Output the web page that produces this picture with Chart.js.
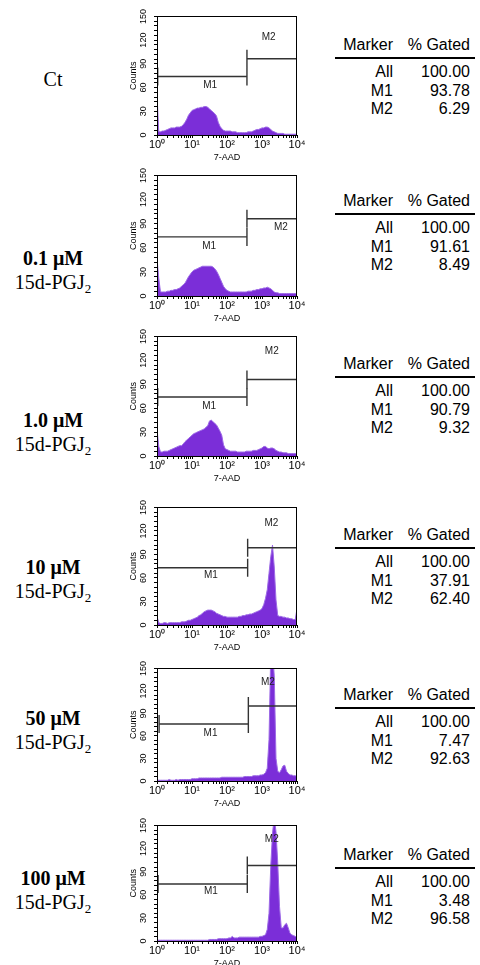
<!DOCTYPE html>
<html lang="en">
<head>
<meta charset="UTF-8">
<title>7-AAD histograms, 15d-PGJ2</title>
<script src="https://cdn.jsdelivr.net/npm/chart.js@4.4.0/dist/chart.umd.min.js"></script>
<style>
  body { margin:0; width:480px; height:965px; background:#fff; position:relative; overflow:hidden; }
  canvas { position:absolute; }
  .lbl { position:absolute; left:0; width:106px; text-align:center; font-family:"Liberation Serif","Times New Roman",serif; font-size:20px; line-height:24px; color:#000; }
  .lbl b { display:block; }
  .lbl sub { font-size:13px; line-height:0; vertical-align:-4px; }
  .tbl { position:absolute; left:335px; width:140px; height:80px; font-family:"Liberation Sans",Arial,sans-serif; font-size:16px; color:#000; }
  .tbl div { position:absolute; height:18px; line-height:18px; white-space:nowrap; }
  .tbl .rule { left:0; width:140px; height:2px; background:#000; }
</style>
</head>
<body>
<script>
// sample names
const conditions = ['Ct', '0.1 μM', '1.0 μM', '10 μM', '50 μM', '100 μM'];
// % gated table
const pctAll = ['100.00', '100.00', '100.00', '100.00', '100.00', '100.00'];
const pctM1 = ['93.78', '91.61', '90.79', '37.91', '7.47', '3.48'];
const pctM2 = ['6.29', '8.49', '9.32', '62.40', '92.63', '96.58'];

// histogram channel positions, in decades of 7-AAD (10^0 .. 10^4)
const channels = [0, 0.05, 0.1, 0.15, 0.2, 0.25, 0.3, 0.35, 0.4, 0.45, 0.5, 0.55, 0.6, 0.65, 0.7, 0.75, 0.8, 0.85, 0.9, 0.95,
  1, 1.05, 1.1, 1.15, 1.2, 1.25, 1.3, 1.35, 1.4, 1.45, 1.5, 1.55, 1.6, 1.65, 1.7, 1.75, 1.8, 1.85, 1.9, 1.95,
  2, 2.05, 2.1, 2.15, 2.2, 2.25, 2.3, 2.35, 2.4, 2.45, 2.5, 2.55, 2.6, 2.65, 2.7, 2.75, 2.8, 2.85, 2.9, 2.95,
  3, 3.05, 3.1, 3.15, 3.2, 3.25, 3.3, 3.35, 3.4, 3.45, 3.5, 3.55, 3.6, 3.65, 3.7, 3.75, 3.8, 3.85, 3.9, 3.95, 4];

// counts per channel
const countsCt = [52, 4, 4, 5, 5, 6, 7, 8, 9, 9, 9, 10, 10, 10, 11, 13, 16, 20, 25, 28,
  31, 32, 33, 34, 34, 35, 35, 36, 36, 35, 33, 31, 29, 27, 24, 16, 11, 8, 6, 5,
  5, 5, 5, 4, 4, 4, 3, 3, 3, 3, 3, 3, 4, 4, 4, 5, 6, 7, 7, 8,
  9, 9, 10, 10, 9, 7, 5, 4, 3, 2, 2, 2, 2, 1, 1, 1, 1, 1, 1, 1, 1];
const counts01 = [47, 22, 5, 5, 5, 5, 6, 6, 7, 7, 8, 8, 9, 10, 12, 14, 16, 20, 24, 27,
  30, 32, 33, 34, 35, 36, 37, 37, 37, 37, 37, 37, 36, 34, 31, 27, 22, 17, 12, 9,
  7, 6, 5, 5, 5, 5, 5, 5, 5, 5, 5, 5, 6, 6, 6, 7, 7, 8, 8, 9,
  9, 10, 10, 11, 10, 9, 7, 5, 4, 4, 3, 3, 3, 3, 3, 3, 3, 3, 3, 3, 3];
const counts1 = [34, 12, 5, 5, 6, 6, 6, 7, 8, 9, 10, 11, 12, 13, 13, 15, 18, 20, 22, 24,
  26, 28, 29, 30, 31, 32, 33, 34, 36, 38, 44, 45, 43, 41, 39, 35, 31, 26, 14, 9,
  8, 7, 6, 6, 6, 6, 5, 5, 5, 5, 5, 6, 6, 6, 6, 7, 7, 7, 8, 9,
  10, 12, 12, 10, 9, 10, 10, 9, 7, 6, 5, 5, 4, 4, 4, 3, 3, 3, 3, 3, 3];
const counts10 = [11, 3, 2, 2, 3, 3, 2, 3, 3, 3, 3, 3, 3, 3, 4, 4, 4, 5, 6, 6,
  7, 8, 9, 10, 12, 13, 15, 17, 18, 19, 19, 19, 18, 17, 15, 14, 13, 12, 11, 11,
  10, 10, 10, 10, 10, 10, 10, 11, 11, 12, 12, 13, 13, 14, 14, 15, 16, 17, 18, 19,
  21, 26, 34, 45, 66, 87, 102, 74, 32, 12, 11, 11, 10, 10, 9, 9, 8, 8, 7, 7, 21];
const counts50 = [2, 1, 1, 1, 1, 1, 1, 2, 1, 1, 1, 2, 1, 2, 2, 2, 2, 2, 2, 2,
  3, 3, 3, 3, 4, 4, 4, 4, 4, 4, 4, 4, 4, 4, 4, 4, 4, 5, 5, 5,
  5, 5, 5, 5, 5, 5, 5, 5, 5, 5, 6, 6, 6, 6, 6, 7, 7, 7, 7, 8,
  8, 9, 11, 17, 55, 170, 175, 140, 30, 13, 11, 15, 20, 21, 13, 10, 8, 8, 7, 7, 6];
const counts100 = [2, 1, 1, 1, 1, 1, 1, 1, 1, 1, 1, 1, 1, 1, 1, 1, 1, 1, 1, 1,
  1, 1, 1, 1, 1, 1, 1, 1, 1, 1, 2, 2, 2, 2, 2, 3, 3, 3, 3, 3,
  3, 4, 4, 6, 4, 4, 4, 5, 5, 5, 5, 5, 5, 5, 5, 5, 5, 5, 5, 6,
  6, 7, 8, 15, 36, 97, 140, 160, 142, 101, 45, 17, 17, 21, 23, 17, 10, 8, 7, 6, 5];
const histograms = [countsCt, counts01, counts1, counts10, counts50, counts100];

// marker gates (decades, counts)
const m1Start = [0.02, 0.0, 0.02, 0.01, 0.06, 0.03];
const gateSplit = [2.57, 2.57, 2.57, 2.59, 2.61, 2.58];
const m2End = [4, 4, 4, 4, 4, 4];
const m1Level = [74, 73.5, 74, 73, 76, 74];
const m2Level = [96.5, 96, 96, 98.5, 100, 98];
const m1LabelPos = [[1.52, 63], [1.49, 62], [1.49, 62], [1.54, 63], [1.53, 63], [1.54, 64]];
const m2LabelPos = [[3.19, 123], [3.54, 85], [3.28, 131], [3.27, 130], [3.17, 132], [3.28, 132]];

// axes
const xMajor = [0, 1, 2, 3, 4];
const xTickLabels = ['10⁰', '10¹', '10²', '10³', '10⁴'];
const yTickLabels = [0, 30, 60, 90, 120, 150];

// layout (page pixels)
const panelTop = [16, 175, 336, 507, 668, 825];
const panelZero = [135, 296, 456, 625, 781, 941];
const labelY = [79, 258, 420, 567, 718, 878];
const tableY = [45, 201, 364, 535, 695, 855];

const sans = '"Liberation Sans", Arial, sans-serif';
const purple = '#7b2ed8';

const frame = {
  id: 'frame',
  afterDatasetsDraw(chart) {
    const a = chart.chartArea, c = chart.ctx;
    c.save();
    c.strokeStyle = '#000';
    c.lineWidth = 1;
    c.strokeRect(Math.round(a.left) + 0.5, Math.round(a.top) + 0.5, Math.round(a.right - a.left) - 1, Math.round(a.bottom - a.top));
    c.restore();
  }
};

const gateText = {
  id: 'gateText',
  afterDatasetsDraw(chart, args, opts) {
    const c = chart.ctx, x = chart.scales.x, y = chart.scales.y;
    c.save();
    c.font = '10px ' + sans;
    c.fillStyle = '#222';
    c.textAlign = 'center';
    c.textBaseline = 'middle';
    opts.items.forEach(it => c.fillText(it.text, x.getPixelForValue(it.pos[0]), y.getPixelForValue(it.pos[1])));
    c.restore();
  }
};

function makePanel(i) {
  const left = 128, right = 297, padR = 12, padT = 10, xh = 28, yw = 29;
  const cv = document.createElement('canvas');
  cv.width = right + padR - left;
  cv.height = panelZero[i] - panelTop[i] + padT + xh;
  cv.style.left = left + 'px';
  cv.style.top = (panelTop[i] - padT) + 'px';
  document.body.appendChild(cv);

  const gateStyle = {
    type: 'line', borderColor: '#333', borderWidth: 1.4, fill: false,
    pointStyle: 'line', rotation: 90, pointRadius: 9, pointBorderColor: '#333', pointBorderWidth: 1.4, order: 0
  };

  new Chart(cv, {
    type: 'line',
    data: {
      datasets: [
        Object.assign({ data: [{ x: m1Start[i], y: m1Level[i] }, { x: gateSplit[i], y: m1Level[i] }] }, gateStyle),
        Object.assign({ data: [{ x: gateSplit[i], y: m2Level[i] }, { x: m2End[i], y: m2Level[i] }] }, gateStyle),
        {
          data: histograms[i].map((v, k) => ({ x: channels[k], y: v })),
          borderColor: '#9d6ae6', borderWidth: 1, backgroundColor: purple,
          fill: 'origin', pointRadius: 0, tension: 0, order: 1
        }
      ]
    },
    options: {
      responsive: false, animation: false, events: [],
      layout: { padding: { top: padT, right: padR, left: 0, bottom: 0 } },
      plugins: {
        legend: { display: false }, tooltip: { enabled: false },
        gateText: { items: [{ text: 'M1', pos: m1LabelPos[i] }, { text: 'M2', pos: m2LabelPos[i] }] }
      },
      scales: {
        x: {
          type: 'linear', min: 0, max: 4,
          afterBuildTicks: s => {
            const t = [];
            for (let d = 0; d < 4; d++) for (let m = 1; m < 10; m++) t.push({ value: d + Math.log10(m) });
            t.push({ value: 4 });
            s.ticks = t;
          },
          afterFit: s => { s.height = xh; },
          ticks: {
            autoSkip: false, maxRotation: 0, padding: 0, color: '#000',
            font: { family: sans, size: 11 },
            callback: v => { const k = xMajor.findIndex(m => Math.abs(m - v) < 1e-6); return k < 0 ? '' : xTickLabels[k]; }
          },
          grid: { drawOnChartArea: false, tickLength: 3, color: '#000' },
          border: { color: '#000' },
          title: { display: true, text: '7-AAD', color: '#000', font: { family: sans, size: 9 }, padding: 0 }
        },
        y: {
          type: 'linear', min: 0, max: 150,
          afterBuildTicks: s => {
            const t = [];
            for (let v = 0; v <= 150; v += 6) t.push({ value: v });
            s.ticks = t;
          },
          afterFit: s => { s.width = yw; },
          ticks: {
            autoSkip: false, minRotation: 90, maxRotation: 90, crossAlign: 'center', padding: 3, color: '#000',
            font: { family: sans, size: 9 },
            callback: v => yTickLabels.includes(v) ? String(v) : ''
          },
          grid: { drawOnChartArea: false, tickLength: 3, color: '#000' },
          border: { color: '#000' },
          title: { display: true, text: 'Counts', color: '#000', font: { family: sans, size: 9 }, padding: 0 }
        }
      }
    },
    plugins: [frame, gateText]
  });
}

function makeLabel(i) {
  const d = document.createElement('div');
  d.className = 'lbl';
  d.style.top = (labelY[i] - 12) + 'px';
  if (i === 0) {
    d.textContent = conditions[i];
  } else {
    d.innerHTML = '<b>' + conditions[i] + '</b>15d-PGJ<sub>2</sub>';
  }
  document.body.appendChild(d);
}

function makeTable(i) {
  const t = document.createElement('div');
  t.className = 'tbl';
  t.style.top = (tableY[i] - 9) + 'px';
  const rows = [['Marker', '% Gated', 0], ['All', pctAll[i], 26.5], ['M1', pctM1[i], 45.5], ['M2', pctM2[i], 64]];
  let html = '';
  rows.forEach(r => {
    html += '<div style="right:82px;top:' + r[2] + 'px">' + r[0] + '</div>';
    html += '<div style="right:5px;top:' + r[2] + 'px">' + r[1] + '</div>';
  });
  html += '<div class="rule" style="top:' + (12.5 + 8) + 'px"></div>';
  t.innerHTML = html;
  document.body.appendChild(t);
}

for (let i = 0; i < 6; i++) { makePanel(i); makeLabel(i); makeTable(i); }
</script>
</body>
</html>
